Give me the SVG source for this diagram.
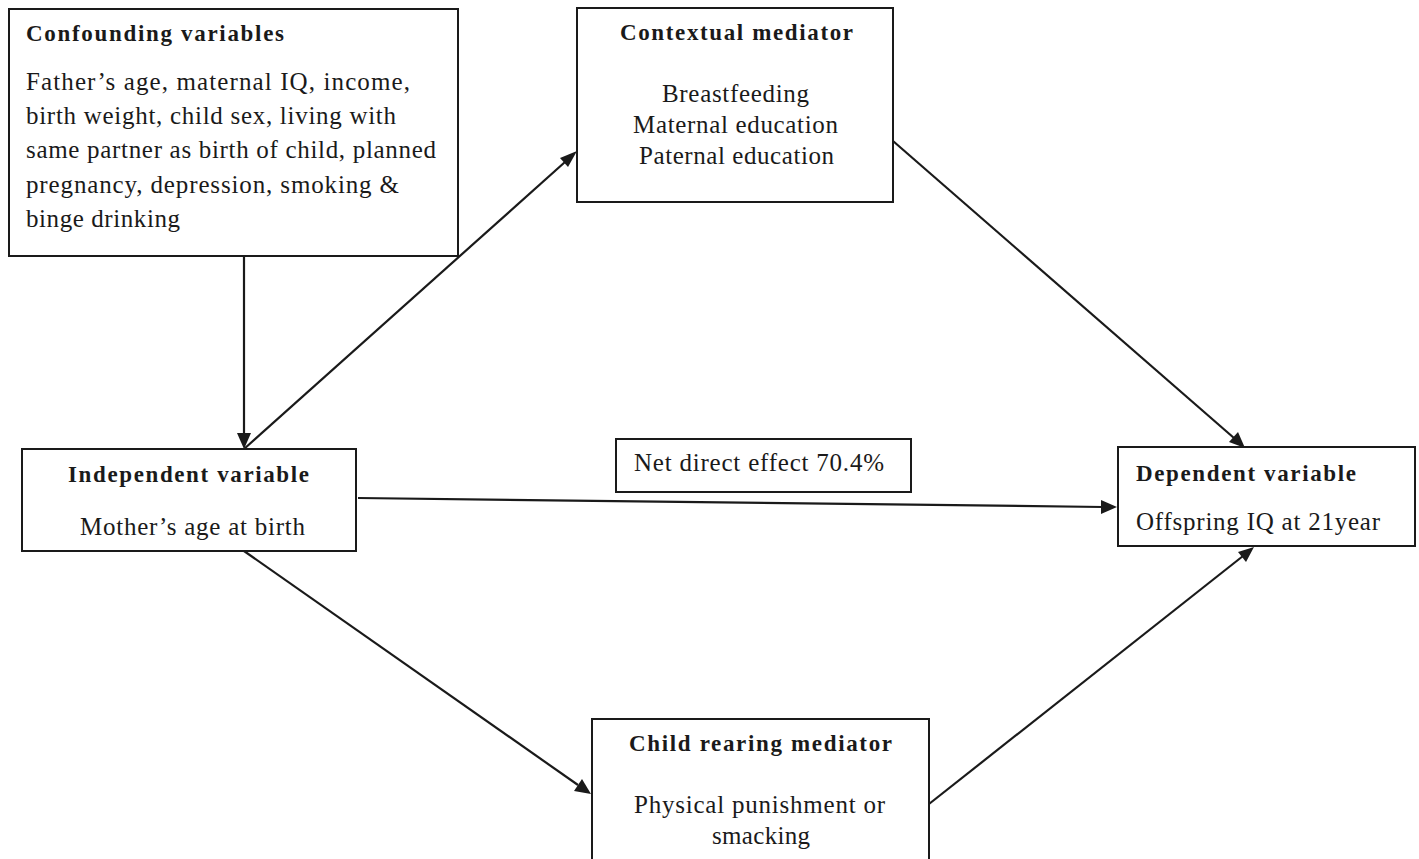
<svg xmlns="http://www.w3.org/2000/svg" width="1419" height="859" viewBox="0 0 1419 859">
<style>
.box{fill:#fff;stroke:#1a1a1a;stroke-width:2}
.t{font-family:"Liberation Serif","Times New Roman",serif;font-size:25px;fill:#1a1a1a}
.b{font-family:"Liberation Serif","Times New Roman",serif;font-size:23px;font-weight:bold;fill:#1a1a1a}
.ln{stroke:#1a1a1a;stroke-width:2.2;fill:none}
.hd{fill:#1a1a1a}
</style>
<rect width="1419" height="859" fill="#fff"/>
<g id="connectors">
<line class="ln" x1="244" y1="256" x2="244" y2="440"/>
<path class="hd" d="M237,433 L244,449 L251,433 z"/>
<line class="ln" x1="244" y1="449" x2="565" y2="162"/>
<path class="hd" d="M577,151 L568,167 L560,158 z"/>
<line class="ln" x1="893" y1="141" x2="1234" y2="438"/>
<path class="hd" d="M1245,448 L1229,442 L1238,432 z"/>
<line class="ln" x1="358" y1="498" x2="1103" y2="507"/>
<path class="hd" d="M1117,507 L1101,514 L1101,500 z"/>
<line class="ln" x1="244" y1="551" x2="578" y2="785"/>
<path class="hd" d="M591,794 L574,791 L582,779 z"/>
<line class="ln" x1="929" y1="804" x2="1243" y2="556"/>
<path class="hd" d="M1254,547 L1246,562 L1238,552 z"/>
</g>
<g id="confounding">
<rect class="box" x="9" y="9" width="449" height="247"/>
<text class="b" x="26" y="41" textLength="258" lengthAdjust="spacing">Confounding  variables</text>
<text class="t" x="26" y="90" textLength="384" lengthAdjust="spacing">Father’s age, maternal IQ, income,</text>
<text class="t" x="26" y="124" textLength="370" lengthAdjust="spacing">birth weight, child sex, living with</text>
<text class="t" x="26" y="158" textLength="410" lengthAdjust="spacing">same partner as birth of child, planned</text>
<text class="t" x="26" y="193" textLength="373" lengthAdjust="spacing">pregnancy,  depression, smoking  &amp;</text>
<text class="t" x="26" y="227" textLength="154" lengthAdjust="spacing">binge drinking</text>
</g>
<g id="contextual">
<rect class="box" x="577" y="8" width="316" height="194"/>
<text class="b" x="620" y="40" textLength="233" lengthAdjust="spacing">Contextual mediator</text>
<text class="t" x="662" y="102" textLength="147" lengthAdjust="spacing">Breastfeeding</text>
<text class="t" x="633" y="133" textLength="205" lengthAdjust="spacing">Maternal education</text>
<text class="t" x="639" y="164" textLength="195" lengthAdjust="spacing">Paternal education</text>
</g>
<g id="independent">
<rect class="box" x="22" y="449" width="334" height="102"/>
<text class="b" x="68" y="482" textLength="241" lengthAdjust="spacing">Independent  variable</text>
<text class="t" x="80" y="535" textLength="225" lengthAdjust="spacing">Mother’s age at birth</text>
</g>
<g id="net-effect">
<rect class="box" x="616" y="439" width="295" height="53"/>
<text class="t" x="634" y="471" textLength="250" lengthAdjust="spacing">Net direct effect 70.4%</text>
</g>
<g id="dependent">
<rect class="box" x="1118" y="447" width="297" height="99"/>
<text class="b" x="1136" y="481" textLength="220" lengthAdjust="spacing">Dependent variable</text>
<text class="t" x="1136" y="530" textLength="244" lengthAdjust="spacing">Offspring IQ at 21year</text>
</g>
<g id="child-rearing">
<rect class="box" x="592" y="719" width="337" height="160"/>
<text class="b" x="629" y="751" textLength="263" lengthAdjust="spacing">Child  rearing mediator</text>
<text class="t" x="634" y="813" textLength="251" lengthAdjust="spacing">Physical punishment  or</text>
<text class="t" x="712" y="844" textLength="98" lengthAdjust="spacing">smacking</text>
</g>
</svg>
